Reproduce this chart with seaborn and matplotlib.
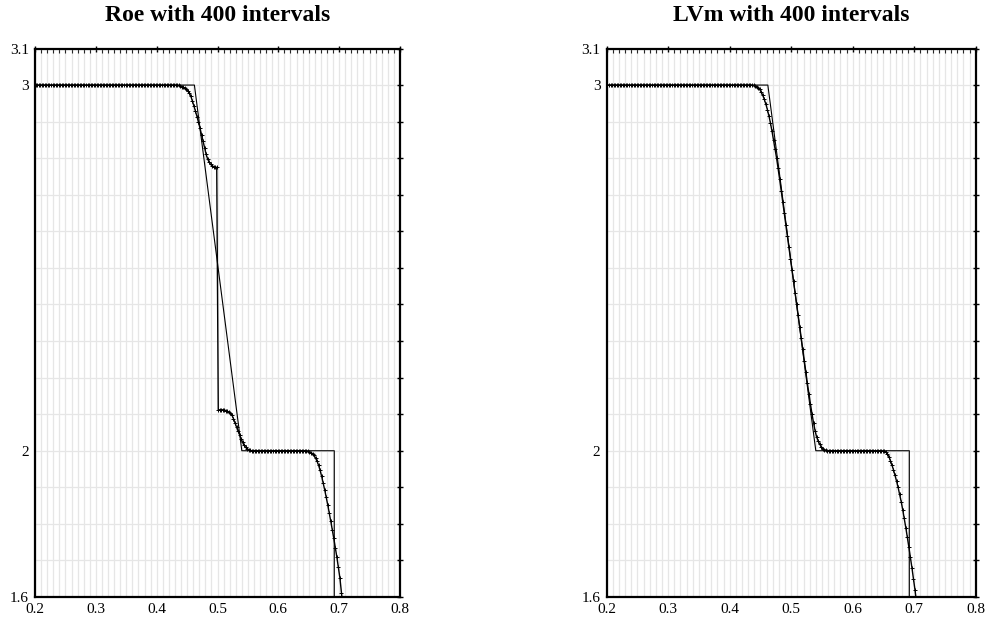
import numpy as np
import pandas as pd
import matplotlib
matplotlib.use("Agg")
import matplotlib.pyplot as plt
import matplotlib.ticker as mticker
import seaborn as sns

# --- data ---
n_intervals = 400
first_cell = 80  # cell centre 0.20125

# exact solution (piecewise linear)
exact_x = [0.0, 0.462, 0.540, 0.692, 0.692, 1.0]
exact_y = [3.0, 3.0, 2.0, 2.0, 1.0, 1.0]

# Roe scheme
roe_drop = [2.999, 2.999, 2.998, 2.996, 2.994, 2.992, 2.989, 2.985, 2.979,
            2.969, 2.956, 2.943, 2.929, 2.914, 2.898, 2.882, 2.864, 2.846,
            2.827, 2.811, 2.798, 2.789, 2.783, 2.779, 2.777, 2.776, 2.775]
roe_shelf = [2.112, 2.112, 2.112, 2.112, 2.111, 2.110, 2.108, 2.106, 2.103,
             2.097, 2.088, 2.076, 2.065, 2.054, 2.044, 2.033, 2.023, 2.015,
             2.009, 2.005, 2.003, 2.001]
roe_tail = [1.999, 1.998, 1.997, 1.995, 1.992, 1.987, 1.980, 1.971, 1.960,
            1.946, 1.930, 1.912, 1.893, 1.873, 1.852, 1.830, 1.807, 1.784,
            1.760, 1.735, 1.709, 1.681, 1.652, 1.612, 1.573, 1.534, 1.495]
roe = [3.0] * 93 + roe_drop + roe_shelf + [2.0] * 36 + roe_tail

# LVm scheme
lvm_drop = [2.999, 2.998, 2.996, 2.993, 2.988, 2.981, 2.972, 2.961, 2.948,
            2.933, 2.916, 2.896, 2.874, 2.850, 2.825, 2.800, 2.772, 2.742,
            2.711, 2.680, 2.649, 2.618, 2.587, 2.556, 2.525, 2.494, 2.463,
            2.432, 2.401, 2.370, 2.339, 2.308, 2.277, 2.246, 2.215, 2.185,
            2.156, 2.128, 2.101, 2.077, 2.055, 2.038, 2.027, 2.018, 2.011,
            2.006, 2.003, 2.001]
lvm_tail = [2.000, 1.999, 1.998, 1.996, 1.992, 1.984, 1.973, 1.961, 1.948,
            1.933, 1.917, 1.900, 1.881, 1.861, 1.839, 1.815, 1.790, 1.764,
            1.737, 1.709, 1.680, 1.650, 1.619, 1.587, 1.554, 1.521, 1.488]
lvm = [3.0] * 95 + lvm_drop + [2.0] * 35 + lvm_tail

titles = ["Roe with 400 intervals", "LVm with 400 intervals"]
y_labels = {1.6: "1.6", 2.0: "2", 3.0: "3", 3.1: "3.1"}


def cell_centres(values):
    idx = np.arange(len(values)) + first_cell
    return (idx + 0.5) / n_intervals


sns.set_style("white")
plt.rcParams["font.family"] = ["Liberation Serif", "DejaVu Serif"]

fig = plt.figure(figsize=(9.9, 6.25), dpi=100)
ax1 = fig.add_axes([0.0354, 0.0448, 0.3686, 0.8776])
ax2 = fig.add_axes([0.6128, 0.0448, 0.3728, 0.8776])

for ax, vals, title in zip([ax1, ax2], [roe, lvm], titles):
    df = pd.DataFrame({"x": cell_centres(vals), "y": vals})
    sns.lineplot(x=exact_x, y=exact_y, ax=ax, color="black", lw=0.8,
                 estimator=None, sort=False)
    sns.lineplot(data=df, x="x", y="y", ax=ax, color="black", lw=1.0,
                 marker="+", markersize=2.8, markeredgewidth=0.7,
                 markeredgecolor="black", estimator=None, sort=False)

    ax.set_xlim(0.2, 0.8)
    ax.set_ylim(1.6, 3.1)
    ax.xaxis.set_major_locator(mticker.MultipleLocator(0.1))
    ax.xaxis.set_minor_locator(mticker.MultipleLocator(0.01))
    ax.xaxis.set_major_formatter(mticker.FormatStrFormatter("%.1f"))
    yt = np.round(np.arange(1.6, 3.15, 0.1), 1)
    ax.yaxis.set_major_locator(mticker.FixedLocator(yt))
    ax.yaxis.set_major_formatter(
        mticker.FuncFormatter(lambda v, p: y_labels.get(round(v, 1), "")))

    ax.grid(which="minor", axis="x", color="#e6e6e6", lw=0.9)
    ax.grid(which="major", axis="both", color="#e6e6e6", lw=0.9)
    ax.set_axisbelow(True)

    ax.tick_params(which="major", direction="inout", length=5, width=1,
                   top=True, right=True, labelsize=11, pad=2, colors="black")
    ax.tick_params(which="minor", direction="in", length=3, width=0.8,
                   top=True, right=False)
    ax.tick_params(axis="y", which="minor", left=False, right=False)
    for s in ax.spines.values():
        s.set_linewidth(1.6)
        s.set_color("black")

    ax.set_xlabel("")
    ax.set_ylabel("")
    ax.set_title(title, fontsize=17, fontweight="bold", pad=20, color="black")

fig.savefig("out.png", dpi=100)
